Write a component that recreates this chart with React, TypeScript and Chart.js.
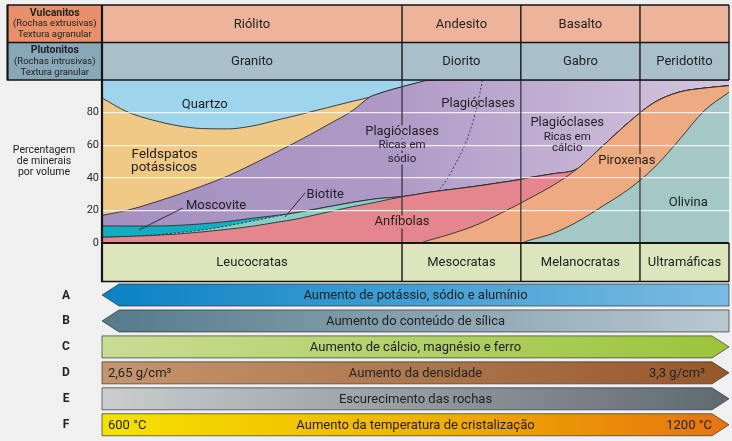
import React, { useEffect, useRef } from 'react';
import { Chart, registerables } from 'chart.js';
Chart.register(...registerables);

// ---------- data ----------
const xGrid = [0, 4, 8, 12, 16, 20, 24, 28, 30, 32, 36, 40, 42.7, 44, 48, 50.5, 52, 56, 60, 64, 66.8, 68, 72, 75.8, 80, 84, 88, 92, 96, 100];
// cumulative upper boundaries of each mineral field (percent by volume)
const olivinaTop = [0, 0, 0, 0, 0, 0, 0, 0, 0, 0, 0, 0, 0, 0, 0, 0, 0, 0, 0, 0, 0, 1.5, 6, 13, 23, 33, 46, 63, 81, 92.5];
const piroxenasTop = [0, 0, 0, 0, 0, 0, 0, 0, 0, 0, 0, 0, 0, 0, 0, 0, 1.5, 6, 11.5, 19, 24.5, 27, 35.5, 45.5, 60, 74, 86, 92.5, 95, 96.5];
const anfibolasTop = [3.5, 4, 4.6, 5.5, 6.8, 8.4, 10.3, 12.8, 14, 15.5, 19, 22.3, 24.3, 25.3, 28.5, 30, 31, 33, 35, 37.3, 39, 40, 42.5, 45.5, 60, 74, 86, 92.5, 95, 96.5];
const biotiteTop = [3.5, 4, 4.8, 6.3, 8, 10.5, 13.5, 16.5, 18, 19.3, 22.2, 25, 26.6, 27.3, 28.5, 30, 31, 33, 35, 37.3, 39, 40, 42.5, 45.5, 60, 74, 86, 92.5, 95, 96.5];
const moscoviteTop = [10.5, 10.4, 10.4, 10.8, 11.8, 13.2, 15.2, 17, 18, 19.3, 22.2, 25, 26.6, 27.3, 28.5, 30, 31, 33, 35, 37.3, 39, 40, 42.5, 45.5, 60, 74, 86, 92.5, 95, 96.5];
const plagioclasesTop = [17, 20, 24.5, 29.5, 35, 41, 48.3, 56, 60, 64, 72.5, 81.3, 89.5, 91.5, 96, 98.5, 99.8, 100, 100, 100, 100, 100, 100, 100, 100, 100, 100, 100, 100, 100];
const feldspatosTop = [89, 80.5, 75.5, 72, 70.2, 70, 71.8, 75.5, 77.3, 79.2, 83.1, 87, 89.5, 91.5, 96, 98.5, 99.8, 100, 100, 100, 100, 100, 100, 100, 100, 100, 100, 100, 100, 100];
const quartzoTop = xGrid.map(() => 100);
// dashed limit inside the plagioclase field
const plagDashX = [60.7, 60.1, 59.2, 57.9, 56.3, 55, 53.6];
const plagDashY = [100, 89, 75, 60.5, 48, 39, 31.8];

const yTicks = [0, 20, 40, 60, 80];
const colEdges = [0, 47.85, 66.8, 85.8, 100];
const vulcanitos = ['Riólito', 'Andesito', 'Basalto', ''];
const plutonitos = ['Granito', 'Diorito', 'Gabro', 'Peridotito'];
const indiceCor = ['Leucocratas', 'Mesocratas', 'Melanocratas', 'Ultramáficas'];
const arrowLetters = ['A', 'B', 'C', 'D', 'E', 'F'];
const arrowTexts = [
  'Aumento de potássio, sódio e alumínio',
  'Aumento do conteúdo de sílica',
  'Aumento de cálcio, magnésio e ferro',
  'Aumento da densidade',
  'Escurecimento das rochas',
  'Aumento da temperatura de cristalização',
];
const arrowLeftNotes = ['', '', '', '2,65 g/cm³', '', '600 °C'];
const arrowRightNotes = ['', '', '', '3,3 g/cm³', '', '1200 °C'];
const arrowPointsLeft = [true, true, false, false, false, false];

// field labels: [text, x, y, size]
const fieldLabels: [string, number, number, number][] = [
  ['Quartzo', 16.4, 84.9, 13],
  ['Feldspatos', 10.0, 54.2, 13.5],
  ['potássicos', 9.9, 46.2, 13.5],
  ['Moscovite', 18.2, 22.8, 13],
  ['Biotite', 35.6, 29.5, 13],
  ['Plagióclases', 47.85, 68.3, 13],
  ['Ricas em', 47.85, 60.3, 11.5],
  ['sódio', 47.85, 51.7, 11.5],
  ['Plagióclases', 60.0, 85.5, 13],
  ['Plagióclases', 74.2, 73.8, 13],
  ['Ricas em', 74.2, 65.2, 11.5],
  ['cálcio', 74.2, 58.5, 11.5],
  ['Anfíbolas', 47.85, 12.9, 13],
  ['Piroxenas', 83.7, 50.5, 13],
  ['Olivina', 93.5, 24.6, 13],
];
// leader lines [x1,y1,x2,y2]
const leaders = [
  [12.9, 21.5, 5.9, 8.0],
  [32.4, 30.8, 29.2, 16.0],
];

// ---------- styles ----------
const FONT = 'Roboto, "Open Sans", "DejaVu Sans", sans-serif';
const TXT = '#232323';
const arrowColors = [
  ['#0a82c4', '#7bbbe3'],
  ['#567a8b', '#b9c9d2'],
  ['#c8dd95', '#9cc43a'],
  ['#c5966f', '#97572a'],
  ['#cbcdce', '#5e6970'],
  ['#f5e200', '#e7730f'],
];

function pts(arr: number[]) {
  return xGrid.map((x, i) => ({ x, y: arr[i] }));
}

function text(ctx: CanvasRenderingContext2D, t: string, x: number, y: number, size: number, o: any = {}) {
  ctx.save();
  ctx.font = `${o.bold ? 'bold ' : ''}${size}px ${FONT}`;
  ctx.fillStyle = o.color || TXT;
  ctx.textAlign = o.align || 'center';
  ctx.textBaseline = 'middle';
  ctx.fillText(t, x, y);
  ctx.restore();
}

function line(ctx: CanvasRenderingContext2D, x1: number, y1: number, x2: number, y2: number, w: number, c: string) {
  ctx.save();
  ctx.strokeStyle = c;
  ctx.lineWidth = w;
  ctx.beginPath();
  ctx.moveTo(x1, y1);
  ctx.lineTo(x2, y2);
  ctx.stroke();
  ctx.restore();
}

const deco = {
  id: 'deco',
  afterDraw(chart: any) {
    const { ctx, chartArea: a, scales } = chart;
    const xs = scales.x, ys = scales.y;
    const px = (v: number) => xs.getPixelForValue(v);
    const py = (v: number) => ys.getPixelForValue(v);
    const L = 7.5;
    const hTop = 5, hMid = 42.5, hBot = a.top;
    const bBot = 281.5;

    // header fills
    ctx.fillStyle = '#eeb49b'; ctx.fillRect(a.left, hTop, a.right - a.left, hMid - hTop);
    ctx.fillStyle = '#a9bfca'; ctx.fillRect(a.left, hMid, a.right - a.left, hBot - hMid);
    ctx.fillStyle = '#e98f6a'; ctx.fillRect(L, hTop, a.left - L, hMid - hTop);
    ctx.fillStyle = '#88a7b7'; ctx.fillRect(L, hMid, a.left - L, hBot - hMid);
    // bottom row fill
    ctx.fillStyle = '#dde5bc'; ctx.fillRect(a.left, a.bottom, a.right - a.left, bBot - a.bottom);

    // header texts
    for (let i = 0; i < 4; i++) {
      const cx = (px(colEdges[i]) + px(colEdges[i + 1])) / 2;
      text(ctx, vulcanitos[i], cx, (hTop + hMid) / 2 + 0.5, 13);
      text(ctx, plutonitos[i], cx, (hMid + hBot) / 2 + 0.5, 13);
      text(ctx, indiceCor[i], cx, (a.bottom + bBot) / 2 + 0.5, 13);
    }
    const lc = (L + a.left) / 2;
    text(ctx, 'Vulcanitos', lc, 13, 10.5, { bold: true });
    text(ctx, '(Rochas extrusivas)', lc, 24, 9.5);
    text(ctx, 'Textura agranular', lc, 35, 9.5);
    text(ctx, 'Plutonitos', lc, 50.5, 10.5, { bold: true });
    text(ctx, '(Rochas intrusivas)', lc, 61.5, 9.5);
    text(ctx, 'Textura granular', lc, 72.5, 9.5);

    // field labels + measured boxes
    const boxes: number[][] = [];
    ctx.save();
    fieldLabels.forEach(([t, x, y, s]) => {
      ctx.font = `${s}px ${FONT}`;
      const w = ctx.measureText(t).width;
      boxes.push([px(x) - w / 2 - 1, py(y) - s / 2, px(x) + w / 2 + 1, py(y) + s / 2]);
    });
    ctx.restore();

    // column lines inside plot, interrupted by labels
    for (let i = 1; i < colEdges.length - 1; i++) {
      const x = px(colEdges[i]);
      const gaps = boxes.filter(b => x >= b[0] && x <= b[2]).sort((p, q) => p[1] - q[1]);
      let y0 = a.top;
      gaps.forEach(g => {
        if (g[1] > y0) line(ctx, x, y0, x, g[1], 1.2, '#2e2e2e');
        y0 = Math.max(y0, g[3]);
      });
      line(ctx, x, y0, x, a.bottom, 1.2, '#2e2e2e');
    }

    // leader lines
    leaders.forEach(([x1, y1, x2, y2]) => line(ctx, px(x1), py(y1), px(x2), py(y2), 0.9, '#222'));
    fieldLabels.forEach(([t, x, y, s]) => text(ctx, t, px(x), py(y), s));

    // header grid lines
    const K = '#151515';
    [hTop, hMid, hBot].forEach(y => line(ctx, L, y, a.right, y, 1.6, K));
    for (let i = 1; i < colEdges.length; i++) {
      const x = px(colEdges[i]);
      line(ctx, x, hTop, x, hBot, 1.4, K);
      line(ctx, x, a.bottom, x, bBot, 1.4, K);
    }
    line(ctx, L, hTop - 0.5, L, hBot + 0.5, 2.2, K);
    line(ctx, a.left, hTop, a.left, bBot + 0.8, 2.2, K);
    line(ctx, a.left, a.bottom, a.right, a.bottom, 1.8, K);
    line(ctx, a.left, bBot, a.right, bBot, 1.6, K);

    // y axis title
    text(ctx, 'Percentagem', 44, 150, 10.5);
    text(ctx, 'de minerais', 44, 161, 10.5);
    text(ctx, 'por volume', 44, 172, 10.5);

    // arrows
    const x0 = px(0), x1 = px(100), tip = 17;
    arrowTexts.forEach((t, i) => {
      const top = 284 + i * 25.95, h = 22, mid = top + h / 2;
      ctx.save();
      ctx.beginPath();
      if (arrowPointsLeft[i]) {
        ctx.moveTo(x0, mid); ctx.lineTo(x0 + tip, top); ctx.lineTo(x1, top); ctx.lineTo(x1, top + h); ctx.lineTo(x0 + tip, top + h);
      } else {
        ctx.moveTo(x0, top); ctx.lineTo(x1 - tip, top); ctx.lineTo(x1, mid); ctx.lineTo(x1 - tip, top + h); ctx.lineTo(x0, top + h);
      }
      ctx.closePath();
      const g = ctx.createLinearGradient(x0, 0, x1, 0);
      const c = arrowColors[i];
      g.addColorStop(0, c[0]);
      if (i === 5) g.addColorStop(0.5, '#f0b400');
      g.addColorStop(1, c[1]);
      ctx.fillStyle = g;
      ctx.fill();
      ctx.strokeStyle = 'rgba(40,40,40,0.65)';
      ctx.lineWidth = 1;
      ctx.stroke();
      ctx.restore();
      text(ctx, t, (x0 + x1) / 2, mid + 0.5, 13);
      if (arrowLeftNotes[i]) text(ctx, arrowLeftNotes[i], x0 + 6, mid + 0.5, 13, { align: 'left' });
      if (arrowRightNotes[i]) text(ctx, arrowRightNotes[i], x1 - (i === 5 ? 17 : 24), mid + 0.5, 13, { align: 'right' });
      text(ctx, arrowLetters[i], 66, mid + 0.5, 12, { bold: true });
    });
  },
};

function purpleFill(c: any) {
  const ch = c.chart;
  const a = ch.chartArea;
  if (!a) return '#b39fc9';
  const g = ch.ctx.createLinearGradient(a.left, 0, a.right, 0);
  g.addColorStop(0, '#a58fbf');
  g.addColorStop(0.45, '#ae99c6');
  g.addColorStop(1, '#d5c5df');
  return g;
}

const base = {
  pointRadius: 0,
  borderWidth: 0.9,
  borderColor: '#2d2d2d',
  cubicInterpolationMode: 'monotone' as const,
  fill: 'origin',
};

export default function App() {
  const ref = useRef<HTMLCanvasElement>(null);
  useEffect(() => {
    const chart = new Chart(ref.current as HTMLCanvasElement, {
      type: 'line',
      data: {
        datasets: [
          { ...base, label: 'limite', data: plagDashX.map((x, i) => ({ x, y: plagDashY[i] })), fill: false, borderDash: [2, 2], cubicInterpolationMode: 'default', tension: 0.35, borderWidth: 0.9, borderColor: '#333' } as any,
          { ...base, label: 'Olivina', data: pts(olivinaTop), backgroundColor: '#a3c8c6' },
          { ...base, label: 'Piroxenas', data: pts(piroxenasTop), backgroundColor: '#eeab82' },
          { ...base, label: 'Anfíbolas', data: pts(anfibolasTop), backgroundColor: '#e5868f' },
          {
            ...base, label: 'Biotite', data: pts(biotiteTop), backgroundColor: '#87cfc4',
            segment: { borderDash: (s: any) => (s.p1.parsed.x <= 30 ? [2, 2] : undefined) },
          },
          { ...base, label: 'Moscovite', data: pts(moscoviteTop), backgroundColor: '#13adc2' },
          { ...base, label: 'Plagióclases', data: pts(plagioclasesTop), backgroundColor: purpleFill },
          { ...base, label: 'Feldspatos potássicos', data: pts(feldspatosTop), backgroundColor: '#f0c987' },
          { ...base, label: 'Quartzo', data: pts(quartzoTop), backgroundColor: '#9fd4ed', borderWidth: 0 },
        ] as any,
      },
      options: {
        responsive: false,
        maintainAspectRatio: false,
        devicePixelRatio: 1,
        animation: false,
        events: [],
        layout: { padding: { left: 0, right: 3, top: 80, bottom: 198 } },
        plugins: { legend: { display: false }, tooltip: { enabled: false }, title: { display: false } },
        scales: {
          x: { type: 'linear', min: 0, max: 100, display: false },
          y: {
            type: 'linear', min: 0, max: 100,
            afterFit: (s: any) => { s.width = 102; },
            afterBuildTicks: (s: any) => { s.ticks = yTicks.concat([100]).map(v => ({ value: v })); },
            ticks: {
              padding: 3,
              color: '#2a2a2a',
              font: { family: FONT, size: 11 },
              callback: (v: any) => (v === 100 ? '' : String(v)),
            },
            grid: {
              z: 1,
              drawTicks: false,
              lineWidth: 1.2,
              color: (c: any) => (c.tick && (c.tick.value === 0 || c.tick.value === 100) ? 'rgba(0,0,0,0)' : 'rgba(255,255,255,0.8)'),
            },
            border: { display: false },
          },
        },
      } as any,
      plugins: [deco],
    });
    return () => chart.destroy();
  }, []);
  return (
    <div style={{ position: 'fixed', left: 0, top: 0, width: 732, height: 441, background: '#f0f0f0' }}>
      <canvas ref={ref} width={732} height={441} style={{ display: 'block', width: 732, height: 441 }} />
    </div>
  );
}
